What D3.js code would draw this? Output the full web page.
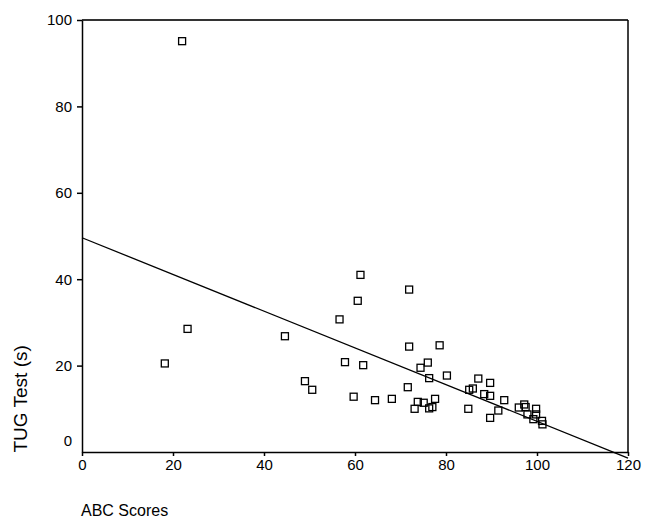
<!DOCTYPE html>
<html>
<head>
<meta charset="utf-8">
<script src="https://cdn.jsdelivr.net/npm/d3@7"></script>
<style>
  body { margin: 0; background: #fff; }
  text { font-family: "Liberation Sans", Arial, sans-serif; }
</style>
</head>
<body>
<div id="scatter"></div>
<script>
// ABC scores (x) and TUG test times (y)
var abcScores = [22.0, 18.2, 23.2, 44.6, 49.0, 50.6, 56.6, 60.6, 61.2, 57.8, 61.8, 59.7, 64.4,
  71.9, 71.9, 78.6, 76.0, 74.4, 76.3, 80.2, 71.6, 68.1, 73.8, 75.1, 73.1, 76.3, 77.0, 77.6,
  84.9, 87.1, 89.7, 85.1, 85.9, 88.4, 89.7, 92.8, 91.5, 89.7, 96.0, 97.2, 97.5, 97.9, 99.8,
  99.8, 99.2, 101.1, 101.2];
var tugTimes = [95.1, 20.5, 28.5, 26.8, 16.4, 14.4, 30.7, 35.0, 41.0, 20.8, 20.1, 12.8, 12.0,
  37.6, 24.4, 24.7, 20.7, 19.5, 17.1, 17.7, 15.0, 12.3, 11.6, 11.4, 10.0, 10.1, 10.4, 12.3,
  10.0, 17.0, 16.0, 14.4, 14.7, 13.4, 13.0, 12.0, 9.6, 7.9, 10.3, 11.0, 10.4, 8.7, 10.0,
  8.7, 7.6, 7.2, 6.4];
// regression line end points (x, y)
var fitX = [0, 120];
var fitY = [49.6, -1.4];
var xTicks = [0, 20, 40, 60, 80, 100, 120];
var yTicks = [20, 40, 60, 80, 100];

var margin = {top: 20, right: 21, bottom: 75, left: 82},
    width = 649 - margin.left - margin.right,
    height = 527 - margin.top - margin.bottom;

var svg = d3.select("#scatter")
  .append("svg")
    .attr("width", 649)
    .attr("height", 527)
  .append("g")
    .attr("transform", "translate(" + margin.left + "," + margin.top + ")");

var x = d3.scaleLinear().domain([0, 120]).range([0, width]);
var y = d3.scaleLinear().domain([0, 100]).range([height, 0]);

// frame top and right
svg.append("line")
  .attr("x1", 0).attr("x2", width).attr("y1", 0).attr("y2", 0)
  .style("stroke", "#333").style("stroke-width", 2);
svg.append("line")
  .attr("x1", width).attr("x2", width).attr("y1", 0).attr("y2", height)
  .style("stroke", "#000").style("stroke-width", 1.5);

// X axis
var xAxis = svg.append("g")
  .attr("transform", "translate(0," + height + ")")
  .call(d3.axisBottom(x).tickValues(xTicks).tickSize(4).tickSizeOuter(0).tickPadding(3));
xAxis.selectAll("text").style("font-size", "15px").style("fill", "#000");
xAxis.selectAll("line, path").style("stroke", "#000").style("stroke-width", 1.5);

// Y axis
var yAxis = svg.append("g")
  .call(d3.axisLeft(y).tickValues(yTicks).tickSize(5).tickSizeOuter(0).tickPadding(5));
yAxis.selectAll("text").style("font-size", "15px").style("fill", "#000");
yAxis.selectAll("line, path").style("stroke", "#000").style("stroke-width", 1.5);

// the zero label sits a little above the corner, no tick
svg.append("text")
  .attr("x", -10)
  .attr("y", y(2.5))
  .attr("dy", "0.32em")
  .attr("text-anchor", "end")
  .style("font-size", "15px")
  .text("0");

// fit line
svg.append("line")
  .attr("x1", x(fitX[0])).attr("y1", y(fitY[0]))
  .attr("x2", x(fitX[1])).attr("y2", y(fitY[1]))
  .style("stroke", "#000")
  .style("stroke-width", 1.3);

// points
var pts = abcScores.map(function(d, i) { return {abc: d, tug: tugTimes[i]}; });
svg.append("g")
  .selectAll("rect")
  .data(pts)
  .enter()
  .append("rect")
    .attr("x", function(d) { return x(d.abc) - 3.5; })
    .attr("y", function(d) { return y(d.tug) - 3.5; })
    .attr("width", 7)
    .attr("height", 7)
    .style("fill", "none")
    .style("stroke", "#000")
    .style("stroke-width", 1.3);

// axis titles
svg.append("text")
  .attr("transform", "rotate(-90)")
  .attr("x", -(y(12.3)))
  .attr("y", 20 - margin.left)
  .attr("dy", "0.35em")
  .attr("text-anchor", "middle")
  .style("font-size", "19px")
  .text("TUG Test (s)");

svg.append("text")
  .attr("x", -1)
  .attr("y", height + 64)
  .attr("text-anchor", "start")
  .style("font-size", "16px")
  .text("ABC Scores");
</script>
</body>
</html>
